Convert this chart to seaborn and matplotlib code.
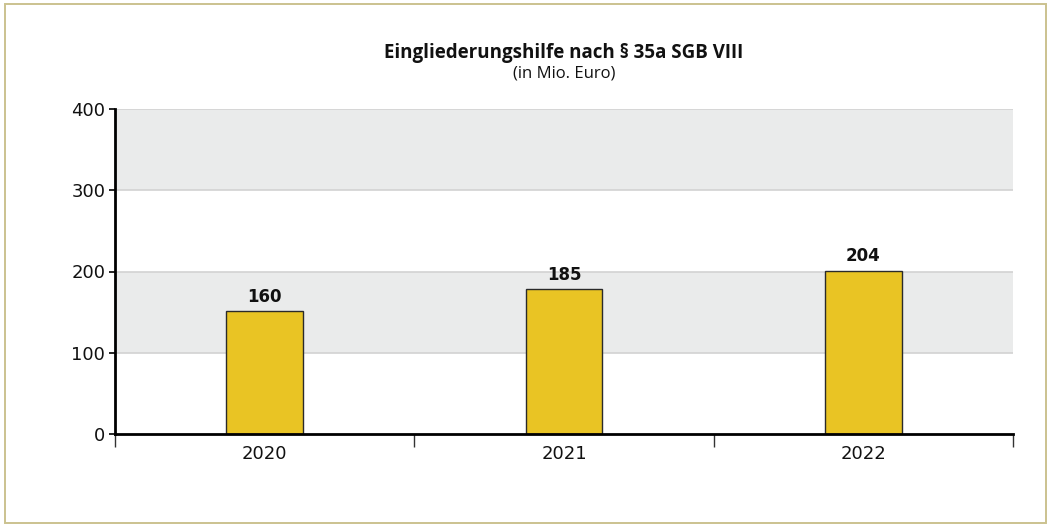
import matplotlib
matplotlib.use("Agg")
import matplotlib.pyplot as plt
import seaborn as sns
import pandas as pd
from matplotlib.patches import Rectangle

years = ["2020", "2021", "2022"]
bar_values = [151, 178, 201]          # heights as drawn in the reference
value_labels = ["160", "185", "204"]  # labels printed above the bars
y_ticks = [0, 100, 200, 300, 400]
title = "Eingliederungshilfe nach § 35a SGB VIII"
subtitle = "(in Mio. Euro)"

sns.set_theme(style="white")
plt.rcParams['font.family'] = ['DejaVu Sans']

fig = plt.figure(figsize=(10.51, 5.27), dpi=100)
ax = fig.add_axes([115/1051, 1-434/527, 898/1051, 325/527])

df = pd.DataFrame({"Jahr": years, "Wert": bar_values})
sns.barplot(data=df, x="Jahr", y="Wert", ax=ax, color="#E9C424",
            saturation=1, width=0.257, edgecolor="#2a2a2a", linewidth=1.0, zorder=3)

ax.set_xlim(-0.5, 2.5)
ax.set_ylim(0, 400)
for lo, hi in [(100, 200), (300, 400)]:
    ax.axhspan(lo, hi, color="#EAEBEB", zorder=0, lw=0)
for y in y_ticks[1:]:
    ax.axhline(y, color="#D2D2D2", lw=1.2, zorder=1)

ax.set_yticks(y_ticks)
ax.set_yticklabels([str(t) for t in y_ticks], fontsize=13, color="#111111")
ax.tick_params(axis="y", direction="out", length=4, width=1.2, color="black", pad=3, left=True)

ax.set_xticks([-0.5, 0.5, 1.5, 2.5])
ax.set_xticklabels([])
ax.set_xticks([0, 1, 2], minor=True)
ax.set_xticklabels(years, minor=True, fontsize=13, color="#111111")
ax.tick_params(axis="x", which="major", direction="out", length=9, width=1.0, color="#333333", bottom=True)
ax.tick_params(axis="x", which="minor", length=0, pad=8)
ax.set_xlabel("")
ax.set_ylabel("")

for s in ["top", "right"]:
    ax.spines[s].set_visible(False)
for s in ["left", "bottom"]:
    ax.spines[s].set_color("black")
    ax.spines[s].set_linewidth(2)
    ax.spines[s].set_zorder(5)

for i, (v, lab) in enumerate(zip(bar_values, value_labels)):
    ax.annotate(lab, (i, v), xytext=(0, 4), textcoords="offset points",
                ha="center", va="bottom", fontsize=12, fontweight="bold",
                color="#111111")

cx = 564 / 1051
fig.text(cx, 1-58/527, title, ha="center", va="baseline", fontsize=13.5,
         fontweight="bold", family=["Open Sans", "DejaVu Sans"], color="#111111")
fig.text(cx, 1-77/527, subtitle, ha="center", va="baseline", fontsize=12,
         family=["Open Sans", "DejaVu Sans"], color="#111111")

fig.patches.append(Rectangle((5/1051, 4/527), 1041/1051, 519/527, transform=fig.transFigure,
                             fill=False, edgecolor="#CBC28F", lw=1.4))

fig.savefig("out.png", dpi=100)
